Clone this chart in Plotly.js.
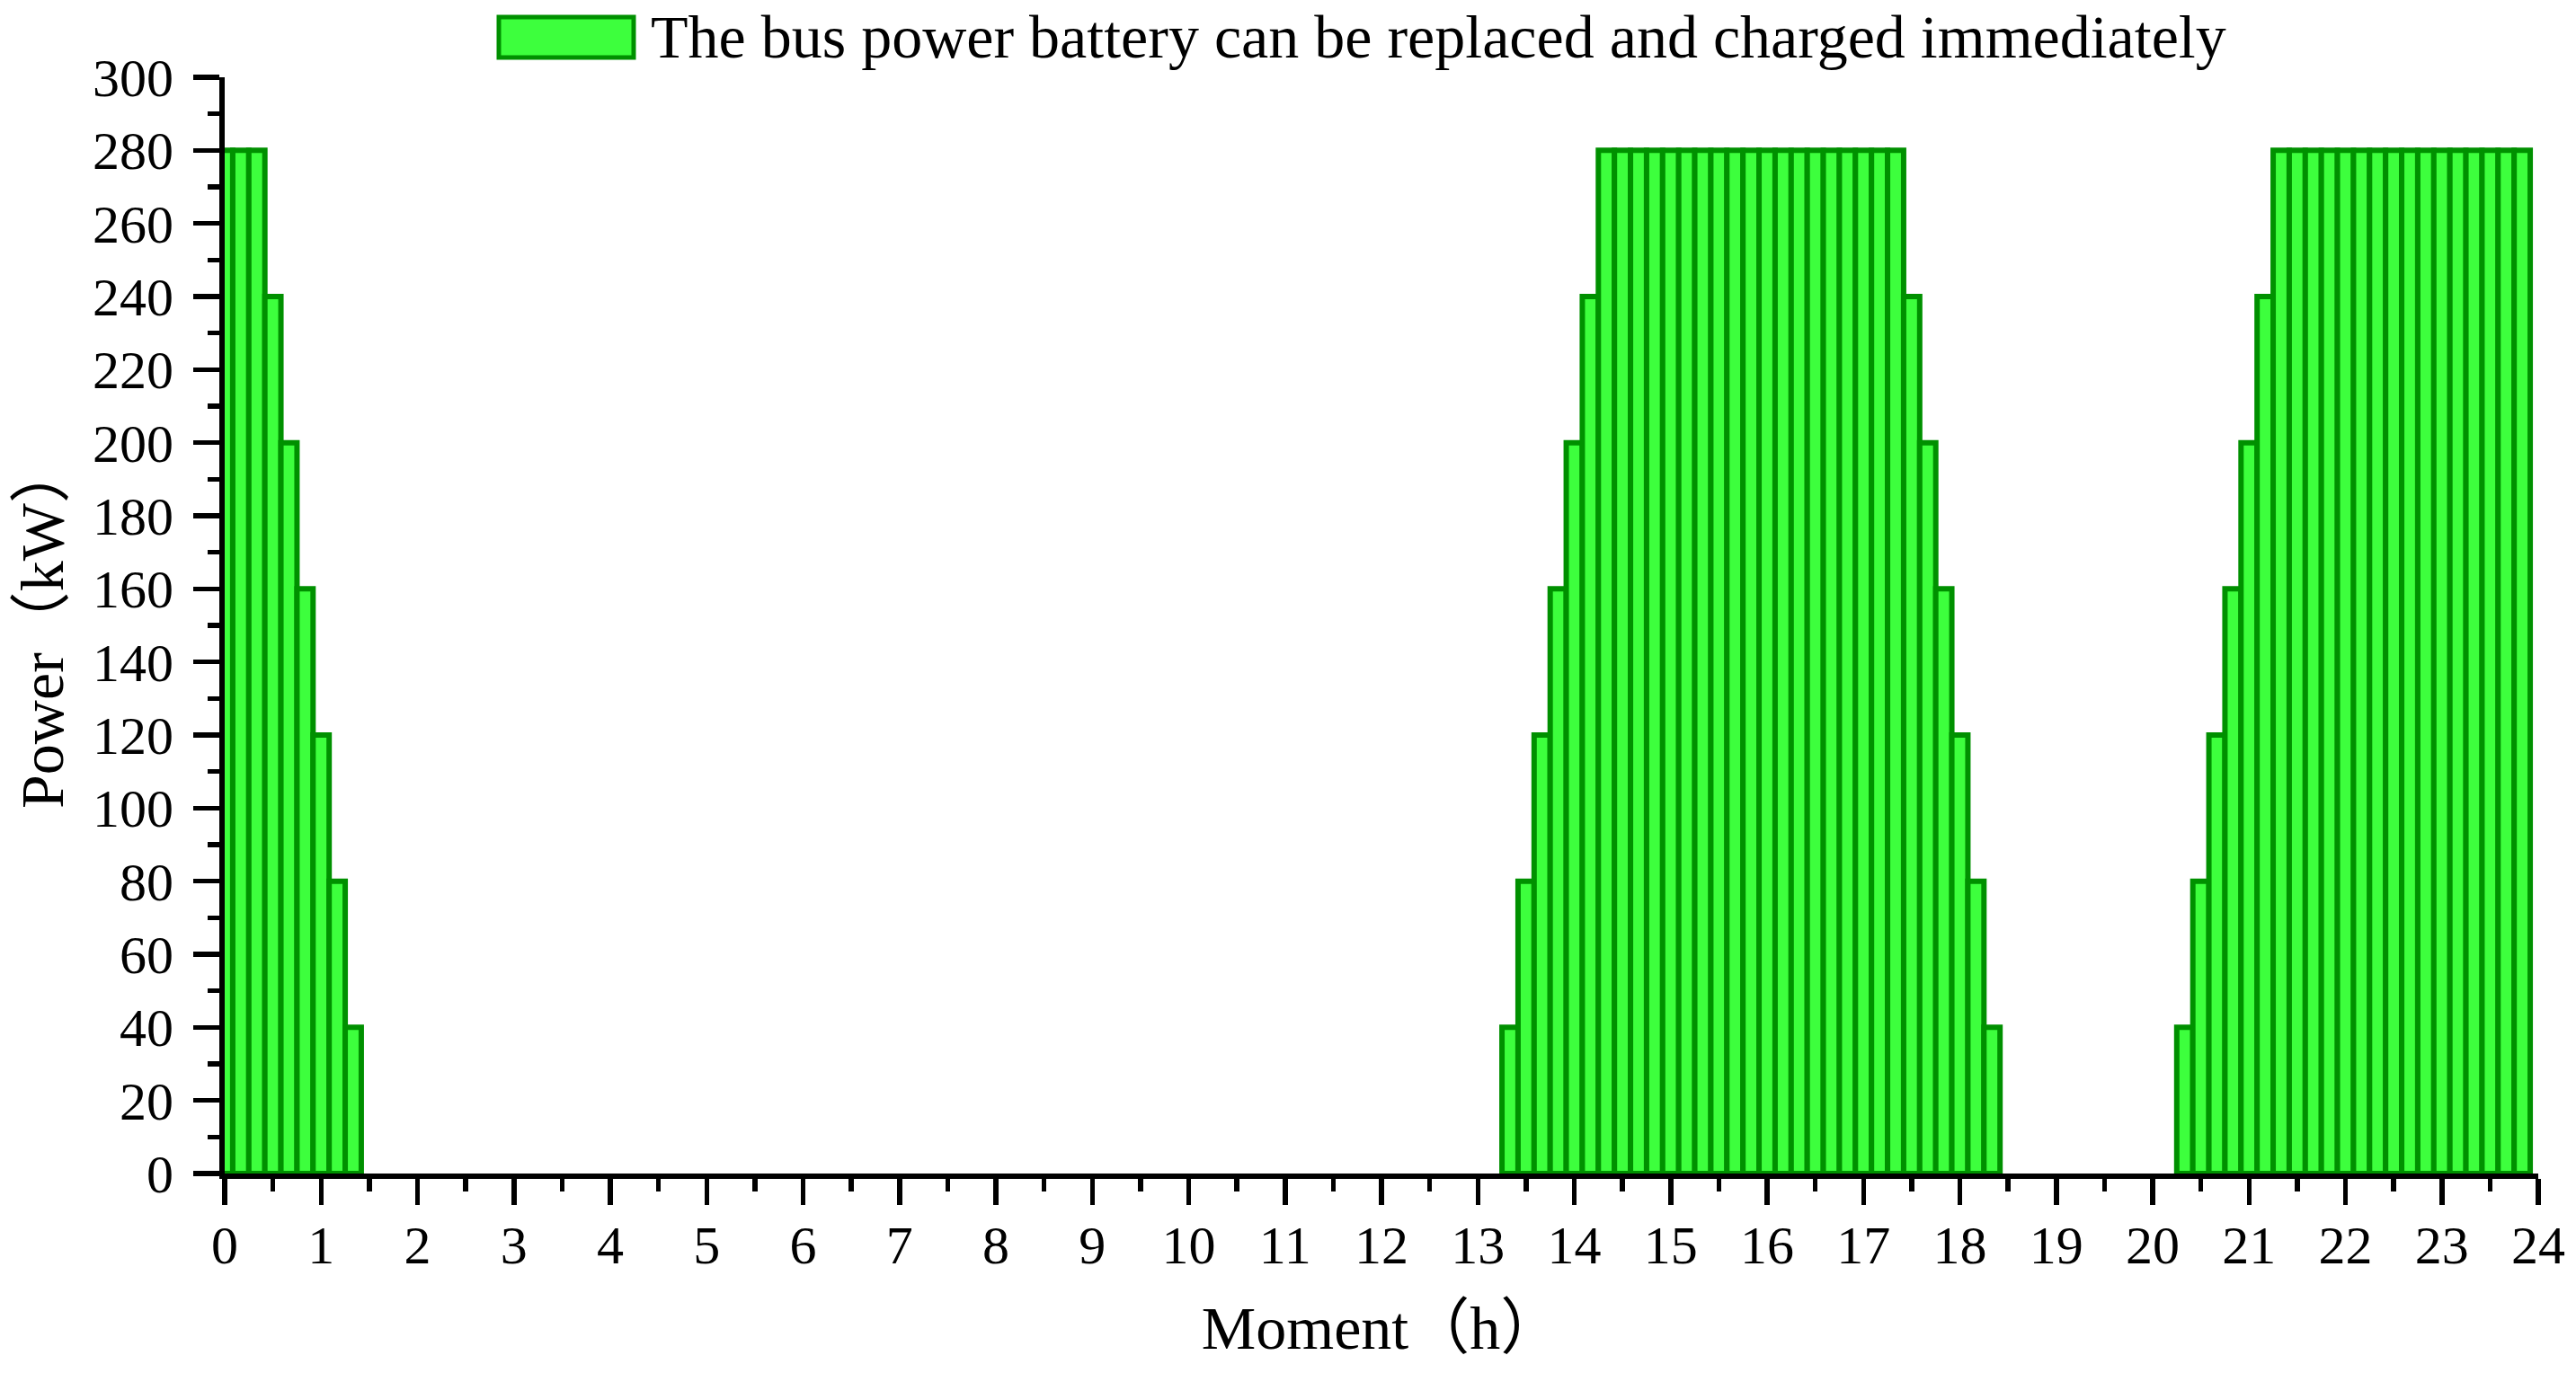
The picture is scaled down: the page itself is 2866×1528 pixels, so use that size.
<!DOCTYPE html>
<html>
<head>
<meta charset="utf-8">
<script src="https://cdn.plot.ly/plotly-3.0.1.min.js"></script>
<style>
  html, body { margin: 0; padding: 0; background: #ffffff; }
  #chart { width: 2866px; height: 1528px; }
</style>
</head>
<body>
<div id="chart"></div>
<script>
// ---- data ----
const seriesName = "The bus power battery can be replaced and charged immediately";
// charging power (kW) in successive 10-minute slots starting at 0 h
const powerKW = [
  280, 280, 280, 240, 200, 160, 120, 80, 40,
  0, 0, 0, 0, 0, 0, 0, 0, 0, 0,
  0, 0, 0, 0, 0, 0, 0, 0, 0, 0,
  0, 0, 0, 0, 0, 0, 0, 0, 0, 0,
  0, 0, 0, 0, 0, 0, 0, 0, 0, 0,
  0, 0, 0, 0, 0, 0, 0, 0, 0, 0,
  0, 0, 0, 0, 0, 0, 0, 0, 0, 0,
  0, 0, 0, 0, 0, 0, 0, 0, 0, 0,
  0,
  40, 80, 120, 160, 200, 240,
  280, 280, 280, 280, 280, 280, 280, 280, 280, 280,
  280, 280, 280, 280, 280, 280, 280, 280, 280,
  240, 200, 160, 120, 80, 40,
  0, 0, 0, 0, 0, 0, 0, 0, 0, 0, 0,
  40, 80, 120, 160, 200, 240,
  280, 280, 280, 280, 280, 280, 280, 280,
  280, 280, 280, 280, 280, 280, 280, 280
];
const slotHours = 1 / 6;          // 10-minute slots
const xTitle = "Moment（h）";
const yTitle = "Power（kW）";

// ---- styles ----
const fillColor = "#3dff3d";
const edgeColor = "#009000";
const fontFamily = "'Liberation Serif', 'Times New Roman', 'Noto Sans CJK SC', serif";

// zero-power slots carry no bar (avoid drawing flat outlines on the axis)
const barValues = powerKW.map(v => (v === 0 ? null : v));

const trace = {
  type: "bar",
  name: seriesName,
  x0: 0,
  dx: slotHours,
  y: barValues,
  width: slotHours,
  marker: { color: fillColor, line: { color: edgeColor, width: 6 } },
  showlegend: false,
  hoverinfo: "x+y"
};

const L = 250, R = 42, T = 86, B = 222;
const W = 2866, H = 1528;
const pw = W - L - R, ph = H - T - B;
const px = v => (v - L) / pw;
const py = v => (H - B - v) / ph;

const layout = {
  width: W, height: H,
  margin: { l: L, r: R, t: T, b: B, pad: 0 },
  paper_bgcolor: "#ffffff",
  plot_bgcolor: "#ffffff",
  bargap: 0,
  font: { family: fontFamily, color: "#000000", size: 60 },
  xaxis: {
    range: [0, 24],
    dtick: 1, tick0: 0,
    ticks: "outside", ticklen: 29, tickwidth: 5.5, tickcolor: "#000",
    showline: true, linewidth: 6, linecolor: "#000",
    showgrid: false, zeroline: false,
    layer: "below traces",
    tickfont: { size: 60, family: fontFamily },
    ticklabelstandoff: -7,
    minor: { dtick: 0.5, ticks: "outside", ticklen: 14, tickwidth: 5.5, tickcolor: "#000", showgrid: false },
    title: { text: xTitle, font: { size: 68, family: fontFamily }, standoff: 37 },
    automargin: false,
    fixedrange: true
  },
  yaxis: {
    range: [0, 300],
    dtick: 20, tick0: 0,
    ticks: "outside", ticklen: 29, tickwidth: 5.5, tickcolor: "#000",
    showline: true, linewidth: 6, linecolor: "#000",
    showgrid: false, zeroline: false,
    layer: "below traces",
    tickfont: { size: 60, family: fontFamily },
    ticklabelstandoff: 10,
    minor: { dtick: 10, ticks: "outside", ticklen: 13, tickwidth: 5.5, tickcolor: "#000", showgrid: false },
    title: { text: yTitle, font: { size: 68, family: fontFamily }, standoff: 12 },
    automargin: false,
    fixedrange: true
  },
  showlegend: false,
  shapes: [{
    type: "rect", xref: "paper", yref: "paper",
    x0: px(555), x1: px(705), y0: py(64), y1: py(19),
    fillcolor: fillColor, line: { color: edgeColor, width: 5 }
  }],
  annotations: [{
    xref: "paper", yref: "paper",
    x: px(722), y: py(41),
    xanchor: "left", yanchor: "middle",
    text: seriesName, showarrow: false,
    font: { size: 68, family: fontFamily, color: "#000" }
  }]
};

Plotly.newPlot("chart", [trace], layout, { displayModeBar: false, staticPlot: true });
</script>
</body>
</html>
